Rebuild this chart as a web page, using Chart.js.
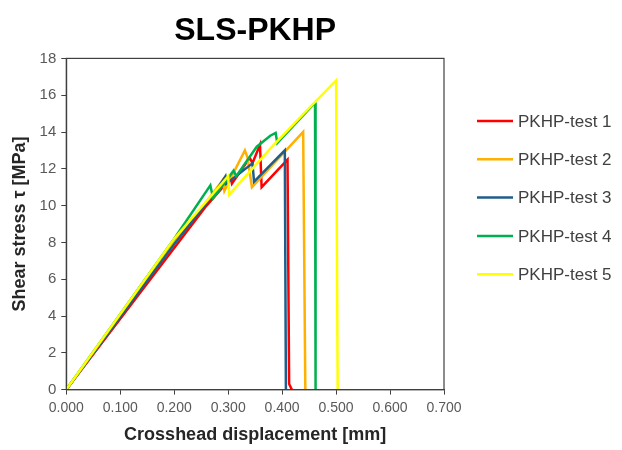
<!DOCTYPE html>
<html>
<head>
<meta charset="utf-8">
<script src="https://cdn.jsdelivr.net/npm/chart.js@4.4.1/dist/chart.umd.min.js"></script>
<style>
	html, body { margin: 0; padding: 0; background: #fff; }
	#sls-canvas { display: block; }
</style>
</head>
<body>
<canvas id="sls-canvas" width="622" height="450"></canvas>
<script>
const seriesLabels = ["PKHP-test 1", "PKHP-test 2", "PKHP-test 3", "PKHP-test 4", "PKHP-test 5"];
const seriesColors = ["#FF0000", "#FFB000", "#1F5E8A", "#00B050", "#FFFF00"];

// crosshead displacement [mm] and shear stress [MPa]
const dispTest1 = [0, 0.26, 0.305, 0.307, 0.34, 0.345, 0.359, 0.362, 0.41, 0.413, 0.418];
const stressTest1 = [0, 10.0, 11.5, 11.2, 12.6, 12.3, 13.3, 11.0, 12.5, 0.3, 0];

const dispTest2 = [0, 0.2, 0.27, 0.29, 0.293, 0.331, 0.336, 0.344, 0.439, 0.443];
const stressTest2 = [0, 8.0, 10.6, 11.4, 10.8, 13.0, 12.6, 11.0, 14.0, 0];

const dispTest3 = [0, 0.2, 0.28, 0.295, 0.297, 0.345, 0.348, 0.405, 0.407];
const stressTest3 = [0, 7.9, 10.9, 11.6, 11.2, 12.3, 11.3, 13.0, 0];

const dispTest4 = [0, 0.2, 0.267, 0.272, 0.31, 0.315, 0.353, 0.378, 0.388, 0.391, 0.461, 0.462];
const stressTest4 = [0, 8.2, 11.1, 10.4, 11.9, 11.6, 13.2, 13.8, 13.95, 13.4, 15.6, 0];

const dispTest5 = [0, 0.2, 0.3, 0.302, 0.378, 0.44, 0.5, 0.503];
const stressTest5 = [0, 8.2, 11.6, 10.6, 13.1, 15.0, 16.8, 0];

const xTicks = [0, 0.1, 0.2, 0.3, 0.4, 0.5, 0.6, 0.7];
const yTicks = [0, 2, 4, 6, 8, 10, 12, 14, 16, 18];

const allDisp = [dispTest1, dispTest2, dispTest3, dispTest4, dispTest5];
const allStress = [stressTest1, stressTest2, stressTest3, stressTest4, stressTest5];

Chart.defaults.font.family = "'Liberation Sans', Arial, sans-serif";
Chart.defaults.color = "#595959";

const toPoints = (xs, ys) => xs.map((x, i) => ({ x: x, y: ys[i] }));

// box round the plot area
const frame = {
	id: "frame",
	afterDatasetsDraw(chart) {
		const { ctx, chartArea: a } = chart;
		ctx.save();
		ctx.strokeStyle = "#404040";
		ctx.lineWidth = 1.2;
		ctx.strokeRect(a.left, a.top, a.right - a.left, a.bottom - a.top);
		ctx.restore();
	},
};

// legend to the right, one row per test
const sideLegend = {
	id: "sideLegend",
	afterDraw(chart) {
		const { ctx, chartArea: a } = chart;
		const x0 = a.right + 33;
		ctx.save();
		ctx.font = "17px 'Liberation Sans', Arial, sans-serif";
		ctx.textBaseline = "middle";
		chart.data.datasets.forEach((ds, i) => {
			const y = 121 + i * 38.3;
			ctx.strokeStyle = ds.borderColor;
			ctx.lineWidth = 2.5;
			ctx.beginPath();
			ctx.moveTo(x0, y);
			ctx.lineTo(x0 + 36, y);
			ctx.stroke();
			ctx.fillStyle = "#404040";
			ctx.fillText(ds.label, x0 + 41, y + 1);
		});
		ctx.restore();
	},
};

const slsChart = new Chart(document.getElementById("sls-canvas"), {
	type: "line",
	data: {
		datasets: seriesLabels.map((label, i) => ({
			label: label,
			data: toPoints(allDisp[i], allStress[i]),
			borderColor: seriesColors[i],
			backgroundColor: seriesColors[i],
			borderWidth: 2.5,
			pointRadius: 0,
			tension: 0,
			fill: false,
			order: seriesLabels.length - i,
		})),
	},
	options: {
		responsive: false,
		animation: false,
		layout: {
			padding: { left: 9, right: 178, top: 0, bottom: 4 },
		},
		plugins: {
			legend: { display: false },
			tooltip: { enabled: false },
			title: {
				display: true,
				text: "SLS-PKHP",
				fullSize: false,
				color: "#000",
				font: { size: 32, weight: "bold" },
				padding: { top: 12, bottom: 8 },
			},
		},
		scales: {
			x: {
				type: "linear",
				min: 0,
				max: 0.7,
				afterBuildTicks: (axis) => {
					axis.ticks = xTicks.map((v) => ({ value: v }));
				},
				ticks: {
					callback: (v) => v.toFixed(3),
					font: { size: 14 },
					padding: 5,
					maxRotation: 0,
				},
				grid: {
					drawOnChartArea: false,
					drawTicks: true,
					tickLength: 5,
					tickColor: "#404040",
				},
				border: { display: true, color: "#404040", width: 1.2 },
				title: {
					display: true,
					text: "Crosshead displacement [mm]",
					color: "#262626",
					font: { size: 18, weight: "bold" },
					padding: { top: 3, bottom: 0 },
				},
			},
			y: {
				min: 0,
				max: 18,
				afterBuildTicks: (axis) => {
					axis.ticks = yTicks.map((v) => ({ value: v }));
				},
				ticks: {
					font: { size: 15 },
					padding: 5,
				},
				grid: {
					drawOnChartArea: false,
					drawTicks: true,
					tickLength: 5,
					tickColor: "#404040",
				},
				border: { display: true, color: "#404040", width: 1.2 },
				title: {
					display: true,
					text: "Shear stress τ [MPa]",
					color: "#262626",
					font: { size: 18, weight: "bold" },
					padding: { top: 0, bottom: 4 },
				},
			},
		},
	},
	plugins: [frame, sideLegend],
});
</script>
</body>
</html>
